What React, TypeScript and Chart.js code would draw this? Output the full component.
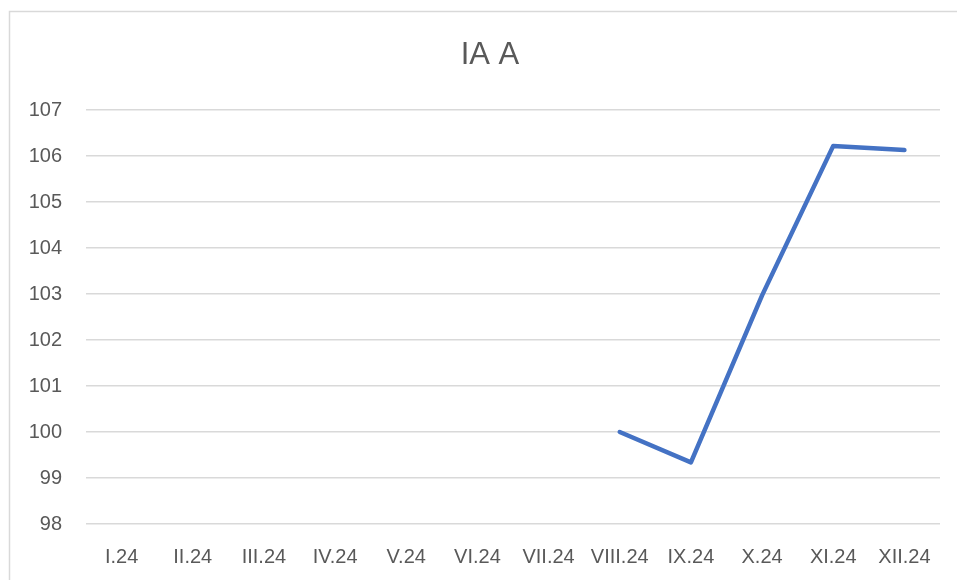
import React, { useEffect, useRef } from "react";
import { Chart, registerables } from "chart.js";

Chart.register(...registerables);

const categories = ["I.24", "II.24", "III.24", "IV.24", "V.24", "VI.24", "VII.24", "VIII.24", "IX.24", "X.24", "XI.24", "XII.24"];
const seriesValues: (number | null)[] = [null, null, null, null, null, null, null, 100.0, 99.34, 102.97, 106.22, 106.13];
const chartTitle = "IA A";
const yMin = 98;
const yMax = 107;

const FONT = "'Liberation Sans', Arial, sans-serif";

const framePlugin = {
  id: "frame",
  beforeDraw(chart: any) {
    const ctx = chart.ctx;
    ctx.save();
    ctx.fillStyle = "#ffffff";
    ctx.fillRect(0, 0, chart.width, chart.height);
    ctx.strokeStyle = "#d9d9d9";
    ctx.lineWidth = 1.5;
    ctx.strokeRect(9.5, 11.5, chart.width + 20, chart.height + 20);
    ctx.restore();
  },
};

const titlePlugin = {
  id: "centeredTitle",
  afterDraw(chart: any) {
    const ctx = chart.ctx;
    ctx.save();
    ctx.fillStyle = "#595959";
    ctx.font = `normal 31px ${FONT}`;
    ctx.textAlign = "center";
    ctx.textBaseline = "middle";
    ctx.fillText(chartTitle, 490, 55);
    ctx.restore();
  },
};

export default function App() {
  const ref = useRef<HTMLCanvasElement | null>(null);
  useEffect(() => {
    if (!ref.current) return;
    const chart = new Chart(ref.current, {
      type: "line",
      data: {
        labels: categories,
        datasets: [
          {
            label: chartTitle,
            data: seriesValues,
            borderColor: "#4472C4",
            backgroundColor: "#4472C4",
            borderWidth: 4.5,
            borderCapStyle: "round",
            borderJoinStyle: "round",
            pointRadius: 0,
            pointHoverRadius: 0,
            tension: 0,
            spanGaps: false,
          },
        ],
      },
      options: {
        responsive: false,
        animation: false,
        maintainAspectRatio: false,
        layout: { padding: { left: 20, right: 17, top: 110, bottom: 11 } },
        plugins: {
          legend: { display: false },
          tooltip: { enabled: false },
          title: { display: false },
        },
        scales: {
          x: {
            offset: true,
            grid: { display: false, drawTicks: false },
            border: { display: false },
            afterFit: (scale: any) => {
              scale.height = 45;
            },
            ticks: {
              color: "#595959",
              font: { family: FONT, size: 20 },
              padding: 21,
              maxRotation: 0,
              autoSkip: false,
            },
          },
          y: {
            min: yMin,
            max: yMax,
            grid: { color: "#d9d9d9", lineWidth: 1.5, drawTicks: false },
            border: { display: false },
            afterFit: (scale: any) => {
              scale.width = 66;
            },
            ticks: {
              stepSize: 1,
              color: "#595959",
              font: { family: FONT, size: 20 },
              padding: 24,
            },
          },
        },
      },
      plugins: [framePlugin, titlePlugin],
    });
    return () => chart.destroy();
  }, []);
  return (
    <div style={{ position: "fixed", left: 0, top: 0, width: 957, height: 580, background: "#fff" }}>
      <canvas ref={ref} width={957} height={580} style={{ display: "block", width: 957, height: 580 }} />
    </div>
  );
}
